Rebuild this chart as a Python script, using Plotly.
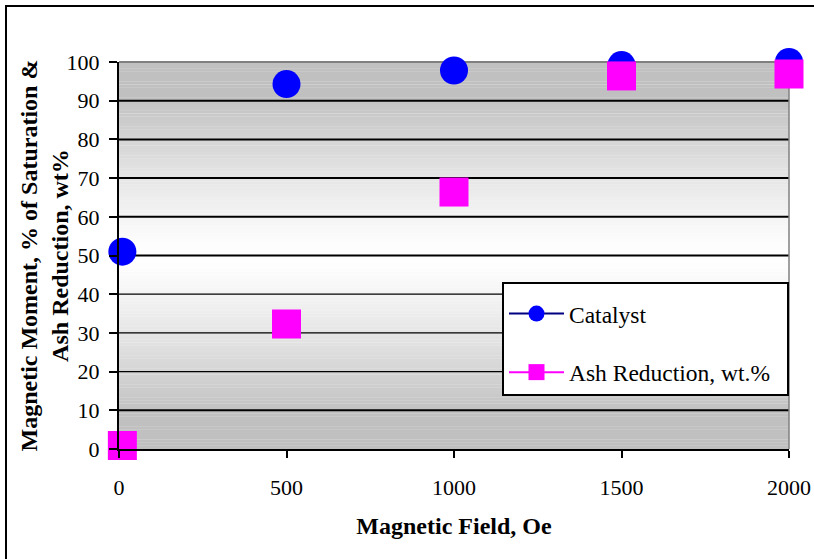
import plotly.graph_objects as go

# ---- data ----
field_catalyst = [10, 500, 1000, 1500, 2000]
catalyst = [51.0, 94.3, 97.8, 99.2, 100.0]
field_ash = [10, 500, 1000, 1500, 2000]
ash_reduction = [0.9, 32.3, 66.4, 96.4, 96.9]
y_ticks = [0, 10, 20, 30, 40, 50, 60, 70, 80, 90, 100]
x_ticks = [0, 500, 1000, 1500, 2000]

FONT = "Liberation Serif, Times New Roman, serif"

fig = go.Figure()

# legend-only entries (show line + marker like the original legend)
fig.add_trace(go.Scatter(x=[None], y=[None], mode="lines+markers", name="Catalyst",
                         line=dict(color="#000080", width=2),
                         marker=dict(symbol="circle", color="#0000FF", size=16),
                         legendgroup="a"))
fig.add_trace(go.Scatter(x=[None], y=[None], mode="lines+markers",
                         name="Ash Reduction, wt.%&nbsp;&nbsp;",
                         line=dict(color="#FF00FF", width=2),
                         marker=dict(symbol="square", color="#FF00FF", size=16),
                         legendgroup="b"))

# actual data markers
fig.add_trace(go.Scatter(x=field_catalyst, y=catalyst, mode="markers", showlegend=False,
                         marker=dict(symbol="circle", color="#0000FF", size=28, line=dict(width=0)),
                         cliponaxis=False))
fig.add_trace(go.Scatter(x=field_ash, y=ash_reduction, mode="markers", showlegend=False,
                         marker=dict(symbol="square", color="#FF00FF", size=29, line=dict(width=0)),
                         cliponaxis=False))

shapes = []
# gradient background: gray at top and bottom, white in the middle
n = 120
for i in range(n):
    y0 = 100 * i / n
    y1 = 100 * (i + 1) / n
    ym = (y0 + y1) / 2
    t = min(1.0, max(0.0, abs(ym - 50) / 41.0))
    t = t ** 1.25
    c = int(round(255 - (255 - 192) * t))
    shapes.append(dict(type="rect", xref="x domain", yref="y", x0=0, x1=1, y0=y0, y1=y1 + 0.05,
                       fillcolor=f"rgb({c},{c},{c})", line=dict(width=0), layer="below"))

# gridlines
for v in y_ticks[1:-1]:
    w = 1.2 if v in (20, 30, 40) else 2
    shapes.append(dict(type="line", xref="x domain", yref="y", x0=0, x1=1, y0=v, y1=v,
                       line=dict(color="black", width=w), layer="below"))
# gray top and right border of plot area
shapes.append(dict(type="line", xref="x domain", yref="y domain", x0=0, x1=1, y0=1, y1=1,
                   line=dict(color="#808080", width=2), layer="below"))
shapes.append(dict(type="line", xref="x domain", yref="y domain", x0=1, x1=1, y0=0, y1=1,
                   line=dict(color="#808080", width=1.5), layer="below"))
# outer chart frame
shapes.append(dict(type="rect", xref="paper", yref="paper",
                   x0=(6 - 119) / 670, x1=2.0, y0=-1.0, y1=(449 - 6) / 387,
                   line=dict(color="black", width=2), fillcolor="rgba(0,0,0,0)"))

fig.update_layout(
    width=814, height=559,
    margin=dict(l=119, r=25, t=62, b=110, autoexpand=False),
    paper_bgcolor="white", plot_bgcolor="white",
    font=dict(family=FONT, size=22, color="black"),
    shapes=shapes,
    showlegend=True,
    legend=dict(x=1.0, xanchor="right", y=(449 - 282) / 387, yanchor="top",
                bgcolor="white", bordercolor="black", borderwidth=2,
                font=dict(family=FONT, size=23.5, color="black"),
                title=dict(text="&nbsp;", font=dict(size=6)),
                traceorder="grouped", tracegroupgap=25,
                itemwidth=55),
    annotations=[dict(text="<b>Magnetic Moment, % of Saturation &<br>Ash Reduction, wt%</b>",
                      textangle=-90, xref="paper", yref="paper",
                      x=(44 - 119) / 670, y=0.5, xanchor="center", yanchor="middle",
                      showarrow=False, font=dict(family=FONT, size=24))],
    xaxis=dict(range=[0, 2000], tickvals=x_ticks, ticktext=[str(v) for v in x_ticks],
               automargin=False,
               showgrid=False, zeroline=False, showline=True, linecolor="black", linewidth=2,
               ticks="outside", ticklen=7, tickwidth=2, tickcolor="black",
               ticklabelstandoff=11,
               tickfont=dict(family=FONT, size=22),
               title=dict(text="<b>Magnetic Field, Oe</b>", font=dict(family=FONT, size=24), standoff=18)),
    yaxis=dict(range=[0, 100], tickvals=y_ticks, ticktext=[str(v) for v in y_ticks],
               automargin=False,
               showgrid=False, zeroline=False, showline=True, linecolor="black", linewidth=2,
               ticks="outside", ticklen=8, tickwidth=2, tickcolor="black",
               ticklabelstandoff=5,
               tickfont=dict(family=FONT, size=22)),
)

fig.write_html("out.html")
